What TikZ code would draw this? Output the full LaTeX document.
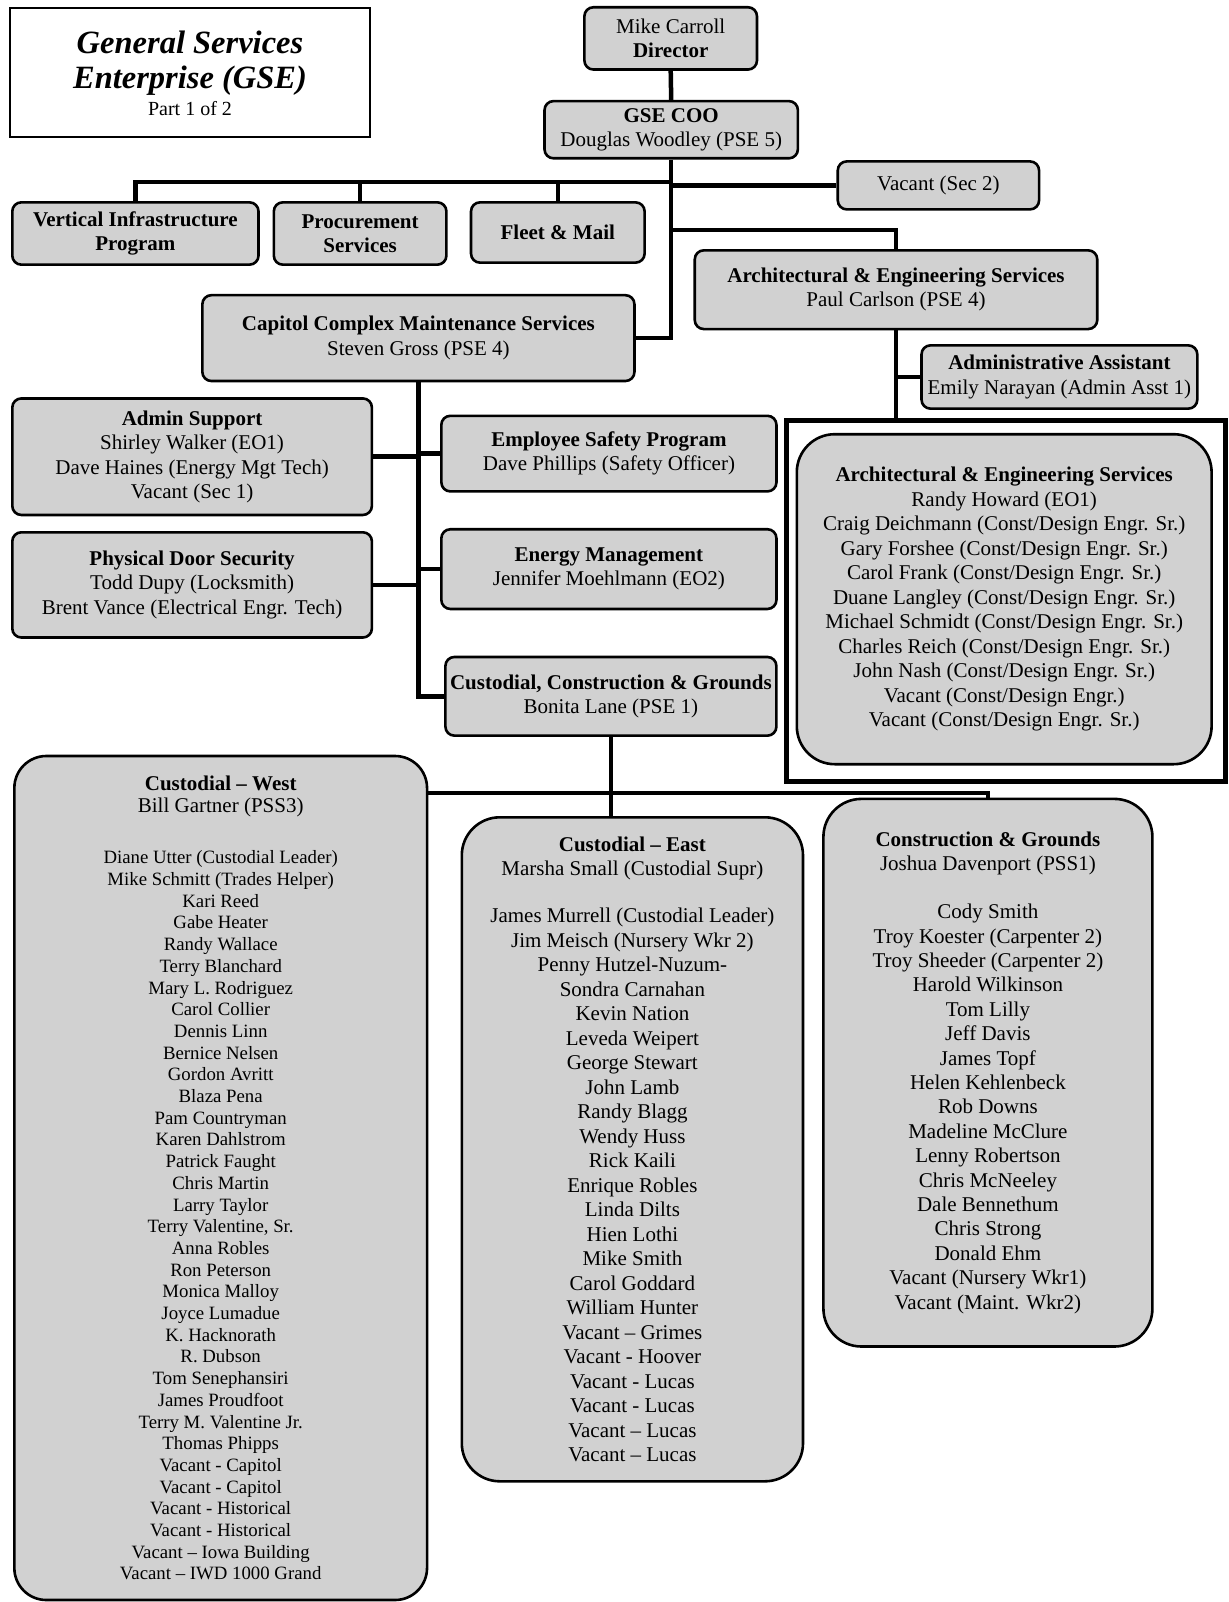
\documentclass[tikz,border=0pt]{standalone}
\usepackage{fontspec}
\setmainfont{Liberation Serif}
\usetikzlibrary{backgrounds}
\newcommand\orghd[1]{{\fontsize{21}{22}\selectfont\bfseries #1}}
\newcommand\orgsub[1]{{\fontsize{21}{22}\selectfont #1}}
\begin{document}
\begin{tikzpicture}[x=1pt,y=-1pt,
  stip/.style={fill=black!18},
  orgbox/.style={draw, line width=2.6pt, rounded corners=9pt, stip, align=center, inner sep=0pt, font=\fontsize{21}{24.5}\selectfont},
  bigbox/.style={orgbox, rounded corners=38pt},
  conn/.style={line width=4.5pt},
  ]
\useasboundingbox (0,0) rectangle (1228,1602);

\node[draw, line width=2pt, minimum width=359.6pt, minimum height=128.7pt, inner sep=0pt] (title) at (190,72.6) {};
\node[font=\fontsize{32.5}{35}\selectfont\bfseries\itshape, anchor=base, inner sep=0pt] (titleA) at (190,54) {General Services};
\node[font=\fontsize{32.5}{35}\selectfont\bfseries\itshape, anchor=base, inner sep=0pt] (titleB) at (190,89) {Enterprise (GSE)};
\node[font=\fontsize{20}{22}\selectfont, anchor=base, inner sep=0pt] (titleC) at (190,116) {Part 1 of 2};

\node[orgbox, minimum width=172.6pt, minimum height=62.3pt] (mike) at (670.7,38.4) {Mike Carroll\\\textbf{Director}};
\node[orgbox, minimum width=253.4pt, minimum height=57.2pt] (coo) at (671.2,129.7) {\textbf{GSE COO}\\Douglas Woodley (PSE 5)};
\node[orgbox, minimum width=201.3pt, minimum height=48pt] (vacant) at (938.4,185.4) {Vacant (Sec 2)};
\node[orgbox, minimum width=246.2pt, minimum height=62.3pt] (vip) at (135.4,233.5) {\textbf{Vertical Infrastructure}\\\textbf{Program}};
\node[orgbox, minimum width=172.6pt, minimum height=62.3pt] (proc) at (360.1,233.5) {\textbf{Procurement}\\\textbf{Services}};
\node[orgbox, minimum width=173.6pt, minimum height=60.3pt] (fleet) at (557.8,232.5) {\textbf{Fleet \& Mail}};
\node[orgbox, minimum width=402.5pt, minimum height=78.7pt] (aes) at (896,289.7) {\textbf{Architectural \& Engineering Services}\\Paul Carlson (PSE 4)};
\node[orgbox, minimum width=432.1pt, minimum height=85.8pt] (ccms) at (418.4,338.1) {\textbf{Capitol Complex Maintenance Services}\\Steven Gross (PSE 4)};
\node[orgbox, minimum width=275.8pt, minimum height=63.3pt] (admasst) at (1059.4,377) {\textbf{Administrative Assistant}\\Emily Narayan (Admin Asst 1)};
\node[orgbox, minimum width=359.6pt, minimum height=116.5pt] (adminsup) at (192.1,456.7) {\textbf{Admin Support}\\Shirley Walker (EO1)\\Dave Haines (Energy Mgt Tech)\\Vacant (Sec 1)};
\node[orgbox, minimum width=335.1pt, minimum height=75.6pt] (esp) at (608.9,453.6) {\textbf{Employee Safety Program}\\Dave Phillips (Safety Officer)};
\node[orgbox, minimum width=359.6pt, minimum height=105.2pt] (pds) at (192.1,584.9) {\textbf{Physical Door Security}\\Todd Dupy (Locksmith)\\Brent Vance (Electrical Engr. Tech)};
\node[orgbox, minimum width=335.1pt, minimum height=79.7pt] (em) at (608.9,569.1) {\textbf{Energy Management}\\Jennifer Moehlmann (EO2)};
\node[orgbox, minimum width=331pt, minimum height=78.7pt] (ccg) at (610.9,696.3) {\textbf{Custodial, Construction \& Grounds}\\Bonita Lane (PSE 1)};

\node[draw, line width=5pt, minimum width=439.3pt, minimum height=360.6pt, inner sep=0pt] (aeframe) at (1006.3,601.2) {};
\node[bigbox, minimum width=414.8pt, minimum height=330pt] (aeteam) at (1004.2,599.2)
  {\textbf{Architectural \& Engineering Services}\\
   Randy Howard (EO1)\\
   Craig Deichmann (Const/Design Engr. Sr.)\\
   Gary Forshee (Const/Design Engr. Sr.)\\
   Carol Frank (Const/Design Engr. Sr.)\\
   Duane Langley (Const/Design Engr. Sr.)\\
   Michael Schmidt (Const/Design Engr. Sr.)\\
   Charles Reich (Const/Design Engr. Sr.)\\
   John Nash (Const/Design Engr. Sr.)\\
   Vacant (Const/Design Engr.)\\
   Vacant (Const/Design Engr. Sr.)};

\node[bigbox, rounded corners=32pt, minimum width=412.7pt, minimum height=844pt, font=\fontsize{18.8}{21.7}\selectfont] (cw) at (220.7,1178)
  {\orghd{Custodial \textendash{} West}\\[0.8pt]
   \orgsub{Bill Gartner (PSS3)}\\[29.3pt]
   Diane Utter (Custodial Leader)\\
   Mike Schmitt (Trades Helper)\\
   Kari Reed\\
   Gabe Heater\\
   Randy Wallace\\
   Terry Blanchard\\
   Mary L. Rodriguez\\
   Carol Collier\\
   Dennis Linn\\
   Bernice Nelsen\\
   Gordon Avritt\\
   Blaza Pena\\
   Pam Countryman\\
   Karen Dahlstrom\\
   Patrick Faught\\
   Chris Martin\\
   Larry Taylor\\
   Terry Valentine, Sr.\\
   Anna Robles\\
   Ron Peterson\\
   Monica Malloy\\
   Joyce Lumadue\\
   K. Hacknorath\\
   R. Dubson\\
   Tom Senephansiri\\
   James Proudfoot\\
   Terry M. Valentine Jr.\\
   Thomas Phipps\\
   Vacant - Capitol\\
   Vacant - Capitol\\
   Vacant - Historical\\
   Vacant - Historical\\
   Vacant \textendash{} Iowa Building\\
   Vacant \textendash{} IWD 1000 Grand};

\node[bigbox, minimum width=341.2pt, minimum height=664pt] (ce) at (632.4,1149.3)
  {\textbf{Custodial \textendash{} East}\\
   Marsha Small (Custodial Supr)\\[22.5pt]
   James Murrell (Custodial Leader)\\
   Jim Meisch (Nursery Wkr 2)\\
   Penny Hutzel-Nuzum-\\
   Sondra Carnahan\\
   Kevin Nation\\
   Leveda Weipert\\
   George Stewart\\
   John Lamb\\
   Randy Blagg\\
   Wendy Huss\\
   Rick Kaili\\
   Enrique Robles\\
   Linda Dilts\\
   Hien Lothi\\
   Mike Smith\\
   Carol Goddard\\
   William Hunter\\
   Vacant \textendash{} Grimes\\
   Vacant - Hoover\\
   Vacant - Lucas\\
   Vacant - Lucas\\
   Vacant \textendash{} Lucas\\
   Vacant \textendash{} Lucas};

\node[bigbox, minimum width=329pt, minimum height=547.6pt, font=\fontsize{21}{24.4}\selectfont] (cg) at (987.9,1072.7)
  {\textbf{Construction \& Grounds}\\
   Joshua Davenport (PSS1)\\[23.5pt]
   Cody Smith\\
   Troy Koester (Carpenter 2)\\
   Troy Sheeder (Carpenter 2)\\
   Harold Wilkinson\\
   Tom Lilly\\
   Jeff Davis\\
   James Topf\\
   Helen Kehlenbeck\\
   Rob Downs\\
   Madeline McClure\\
   Lenny Robertson\\
   Chris McNeeley\\
   Dale Bennethum\\
   Chris Strong\\
   Donald Ehm\\
   Vacant (Nursery Wkr1)\\
   Vacant (Maint. Wkr2)};

\begin{scope}[on background layer]
\fill[white] (0,0) rectangle (1228,1602);
\coordinate (barA) at (0,182);
\coordinate (barB) at (0,230);
\coordinate (barC) at (0,793);
\draw[conn] (mike.south) -- (coo.north);
\draw[conn] (coo.south) |- (ccms.east);
\draw[conn] (vip.north) |- (barA -| coo.south);
\draw[conn] (proc.north) -- (proc.north |- barA);
\draw[conn] (fleet.north) -- (fleet.north |- barA);
\draw[conn] (coo.south |- vacant.west) -- (vacant.west);
\draw[conn] (coo.south |- barB) -| (aes.north);
\draw[conn] (aes.south) -- (aes.south |- aeframe.north);
\draw[conn] (aes.south |- admasst.west) -- (admasst.west);
\draw[conn] (ccms.south) |- (ccg.west);
\draw[conn] (adminsup.east) -- (ccms.south |- adminsup.east);
\draw[conn] (esp.west) -- (ccms.south |- esp.west);
\draw[conn] (pds.east) -- (ccms.south |- pds.east);
\draw[conn] (em.west) -- (ccms.south |- em.west);
\draw[conn] (ccg.south) -- (ccg.south |- ce.north);
\draw[conn] (cw.east |- barC) -| (cg.north);
\end{scope}
\end{tikzpicture}
\end{document}
